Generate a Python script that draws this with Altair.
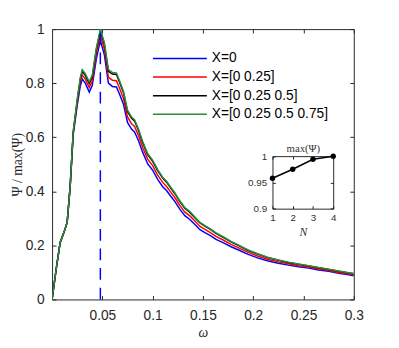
import altair as alt
import pandas as pd

OMEGA = [0, 0.004, 0.008, 0.012, 0.015, 0.018, 0.021, 0.025, 0.028, 0.030,
         0.033, 0.037, 0.040, 0.044, 0.048, 0.052, 0.056, 0.060, 0.064, 0.067,
         0.071, 0.075, 0.079, 0.082, 0.086, 0.090, 0.095, 0.100, 0.105, 0.110,
         0.114, 0.118, 0.122, 0.127, 0.132, 0.137, 0.142, 0.147, 0.152, 0.157,
         0.163, 0.170, 0.178, 0.186, 0.195, 0.205, 0.215, 0.225, 0.235, 0.245,
         0.255, 0.265, 0.275, 0.285, 0.295, 0.300]

PSI_X0 = [0, 0.11, 0.21, 0.25, 0.285, 0.417, 0.61, 0.718, 0.788, 0.815,
          0.80, 0.767, 0.792, 0.89, 0.958, 0.905, 0.80, 0.788, 0.786, 0.76,
          0.722, 0.655, 0.63, 0.62, 0.587, 0.545, 0.502, 0.478, 0.444, 0.417,
          0.402, 0.382, 0.363, 0.334, 0.31, 0.296, 0.277, 0.258, 0.247, 0.237,
          0.222, 0.21, 0.195, 0.182, 0.167, 0.153, 0.142, 0.134, 0.127, 0.121,
          0.116, 0.109, 0.104, 0.097, 0.091, 0.088]

PSI_X1 = [0, 0.11, 0.21, 0.25, 0.285, 0.418, 0.615, 0.728, 0.802, 0.83,
          0.815, 0.784, 0.809, 0.908, 0.975, 0.925, 0.822, 0.811, 0.809, 0.782,
          0.743, 0.675, 0.65, 0.64, 0.606, 0.563, 0.519, 0.495, 0.46, 0.433,
          0.417, 0.397, 0.377, 0.348, 0.323, 0.309, 0.29, 0.27, 0.259, 0.248,
          0.233, 0.22, 0.204, 0.19, 0.174, 0.16, 0.148, 0.139, 0.132, 0.125,
          0.12, 0.113, 0.107, 0.1, 0.094, 0.091]

PSI_X2 = [0, 0.11, 0.21, 0.25, 0.285, 0.42, 0.618, 0.736, 0.814, 0.844,
          0.829, 0.799, 0.824, 0.924, 0.994, 0.944, 0.844, 0.834, 0.832, 0.804,
          0.765, 0.695, 0.67, 0.66, 0.625, 0.581, 0.536, 0.511, 0.477, 0.449,
          0.433, 0.412, 0.392, 0.362, 0.337, 0.322, 0.302, 0.283, 0.271, 0.26,
          0.244, 0.23, 0.213, 0.198, 0.181, 0.167, 0.154, 0.145, 0.137, 0.13,
          0.124, 0.117, 0.111, 0.104, 0.098, 0.095]

PSI_X3 = [0, 0.11, 0.21, 0.25, 0.285, 0.42, 0.62, 0.74, 0.82, 0.85,
          0.835, 0.805, 0.83, 0.93, 1.0, 0.95, 0.85, 0.84, 0.838, 0.81,
          0.77, 0.70, 0.675, 0.665, 0.63, 0.585, 0.54, 0.515, 0.48, 0.452,
          0.436, 0.415, 0.395, 0.365, 0.34, 0.325, 0.305, 0.285, 0.273, 0.262,
          0.246, 0.232, 0.215, 0.2, 0.183, 0.168, 0.155, 0.146, 0.138, 0.131,
          0.125, 0.118, 0.112, 0.105, 0.099, 0.096]

SERIES = ["X=0", "X=[0 0.25]", "X=[0 0.25 0.5]", "X=[0 0.25 0.5 0.75]"]
COLORS = ["#0000ff", "#ff0000", "#000000", "#2a8c3c"]
PEAK_OMEGA = [0.048]
X_TICKS = [0.05, 0.1, 0.15, 0.2, 0.25, 0.3]
Y_TICKS = [0, 0.2, 0.4, 0.6, 0.8, 1]

INSET_N = [1, 2, 3, 4]
INSET_MAX = [0.958, 0.975, 0.994, 1.0]
INSET_Y_TICKS = [0.9, 0.95, 1]

W, H = 308, 276
FONT = "Liberation Sans"
SERIF = "Liberation Serif"
AX = "#262626"

rows = []
for k, (name, vals) in enumerate(zip(SERIES, [PSI_X0, PSI_X1, PSI_X2, PSI_X3])):
    for o, v in zip(OMEGA, vals):
        rows.append({"omega": o, "psi": v, "series": name, "k": k})
df = pd.DataFrame(rows)
peak_df = pd.DataFrame({"omega": PEAK_OMEGA})
inset_df = pd.DataFrame({"N": INSET_N, "m": INSET_MAX})

X_MAIN = alt.Scale(domain=[0, 0.3], nice=False, zero=False)
Y_MAIN = alt.Scale(domain=[0, 1], nice=False, zero=False)
X_IN = alt.Scale(domain=[1, 4], range=[225, 287], nice=False, zero=False)
Y_IN = alt.Scale(domain=[0.9, 1], range=[183.3, 129.7], nice=False, zero=False)

NEG4 = {"expr": "-4"}
NEG3 = {"expr": "-3"}

common = dict(grid=False, domainColor=AX, tickColor=AX, labelColor=AX,
              labelFont=FONT, labelFlush=False, labelOverlap=False, domainWidth=1)

x_bottom = alt.Axis(orient="bottom", values=X_TICKS, format="~g", tickSize=NEG4,
                    labelFontSize=14, labelPadding=13, title="ω", titleFont=SERIF,
                    titleFontStyle="italic", titleFontWeight="normal", titleFontSize=14,
                    titleColor=AX, titleY=38, titleBaseline="alphabetic", **common)
y_left = alt.Axis(orient="left", values=Y_TICKS, format="~g", tickSize=NEG4,
                  labelFontSize=14, labelPadding=12, title="Ψ / max(Ψ)", titleFont=SERIF,
                  titleFontWeight="normal", titleFontSize=14, titleColor=AX,
                  titleX=-31, titleY=H / 2, titleAngle=270, titleAlign="center",
                  titleBaseline="alphabetic", **common)
x_top = alt.Axis(orient="top", values=X_TICKS, labels=False, tickSize=NEG4, title=None, **common)
y_right = alt.Axis(orient="right", values=Y_TICKS, labels=False, tickSize=NEG4, title=None, **common)

lines = alt.Chart(df).mark_line(strokeWidth=1.5, clip=True).encode(
    x=alt.X("omega:Q", scale=X_MAIN, axis=x_bottom),
    y=alt.Y("psi:Q", scale=Y_MAIN, axis=y_left),
    color=alt.Color("series:N", scale=alt.Scale(domain=SERIES, range=COLORS),
                    legend=alt.Legend(orient="none", legendX=102, legendY=20.5, title=None,
                                      symbolType="stroke", symbolSize=3025,
                                      symbolStrokeWidth=1.5, clipHeight=19, rowPadding=0,
                                      labelFont=FONT, labelFontSize=14, labelColor="#000",
                                      labelOffset=4, padding=0, labelLimit=300)),
    detail="k:N",
    order="k:Q",
)

rule = alt.Chart(peak_df).mark_rule(color="#0000ff", strokeWidth=1.5, strokeDash=[12, 8]).encode(
    x=alt.X("omega:Q", scale=X_MAIN, axis=x_top),
    y=alt.datum(0, scale=Y_MAIN, axis=y_right),
    y2=alt.datum(1),
)

in_common = dict(grid=False, domainColor=AX, tickColor=AX, labelColor="#333",
                 labelFont=FONT, labelFontSize=10, labelFlush=False, labelOverlap=False)

ix_bottom = alt.Axis(orient="bottom", offset=183.3 - H, values=INSET_N, format="d",
                     tickSize=NEG3, labelPadding=7, title="N", titleFont=SERIF,
                     titleFontStyle="italic", titleFontWeight="normal", titleFontSize=12,
                     titleColor="#333", titleY=27, titleBaseline="alphabetic", **in_common)
iy_left = alt.Axis(orient="left", offset=-225, values=INSET_Y_TICKS, format="~g",
                   tickSize=NEG3, labelPadding=9, title=None, **in_common)
ix_top = alt.Axis(orient="top", offset=-129.7, values=INSET_N, labels=False, tickSize=NEG3,
                  title="max(Ψ)", titleFont=SERIF, titleFontWeight="normal", titleFontSize=11,
                  titleColor="#333", titleY=-5, titleBaseline="alphabetic", **in_common)
iy_right = alt.Axis(orient="right", offset=287 - W, values=INSET_Y_TICKS, labels=False,
                    tickSize=NEG3, title=None, **in_common)

inset_line = alt.Chart(inset_df).mark_line(color="#000", strokeWidth=1.5).encode(
    x=alt.X("N:Q", scale=X_IN, axis=ix_bottom),
    y=alt.Y("m:Q", scale=Y_IN, axis=iy_left),
)
inset_pts = alt.Chart(inset_df).mark_point(filled=True, color="#000", size=30, opacity=1).encode(
    x=alt.X("N:Q", scale=X_IN, axis=ix_top),
    y=alt.Y("m:Q", scale=Y_IN, axis=iy_right),
)

chart = alt.layer(lines, rule, inset_line, inset_pts).resolve_scale(
    x="independent", y="independent"
).resolve_axis(
    x="independent", y="independent"
).properties(
    width=W, height=H,
    autosize=alt.AutoSizeParams(type="none"),
    padding={"left": 45, "top": 18, "right": 38, "bottom": 46},
).configure_view(stroke=None)

chart.save("out.html", embed_options={"renderer": "svg", "actions": False})
